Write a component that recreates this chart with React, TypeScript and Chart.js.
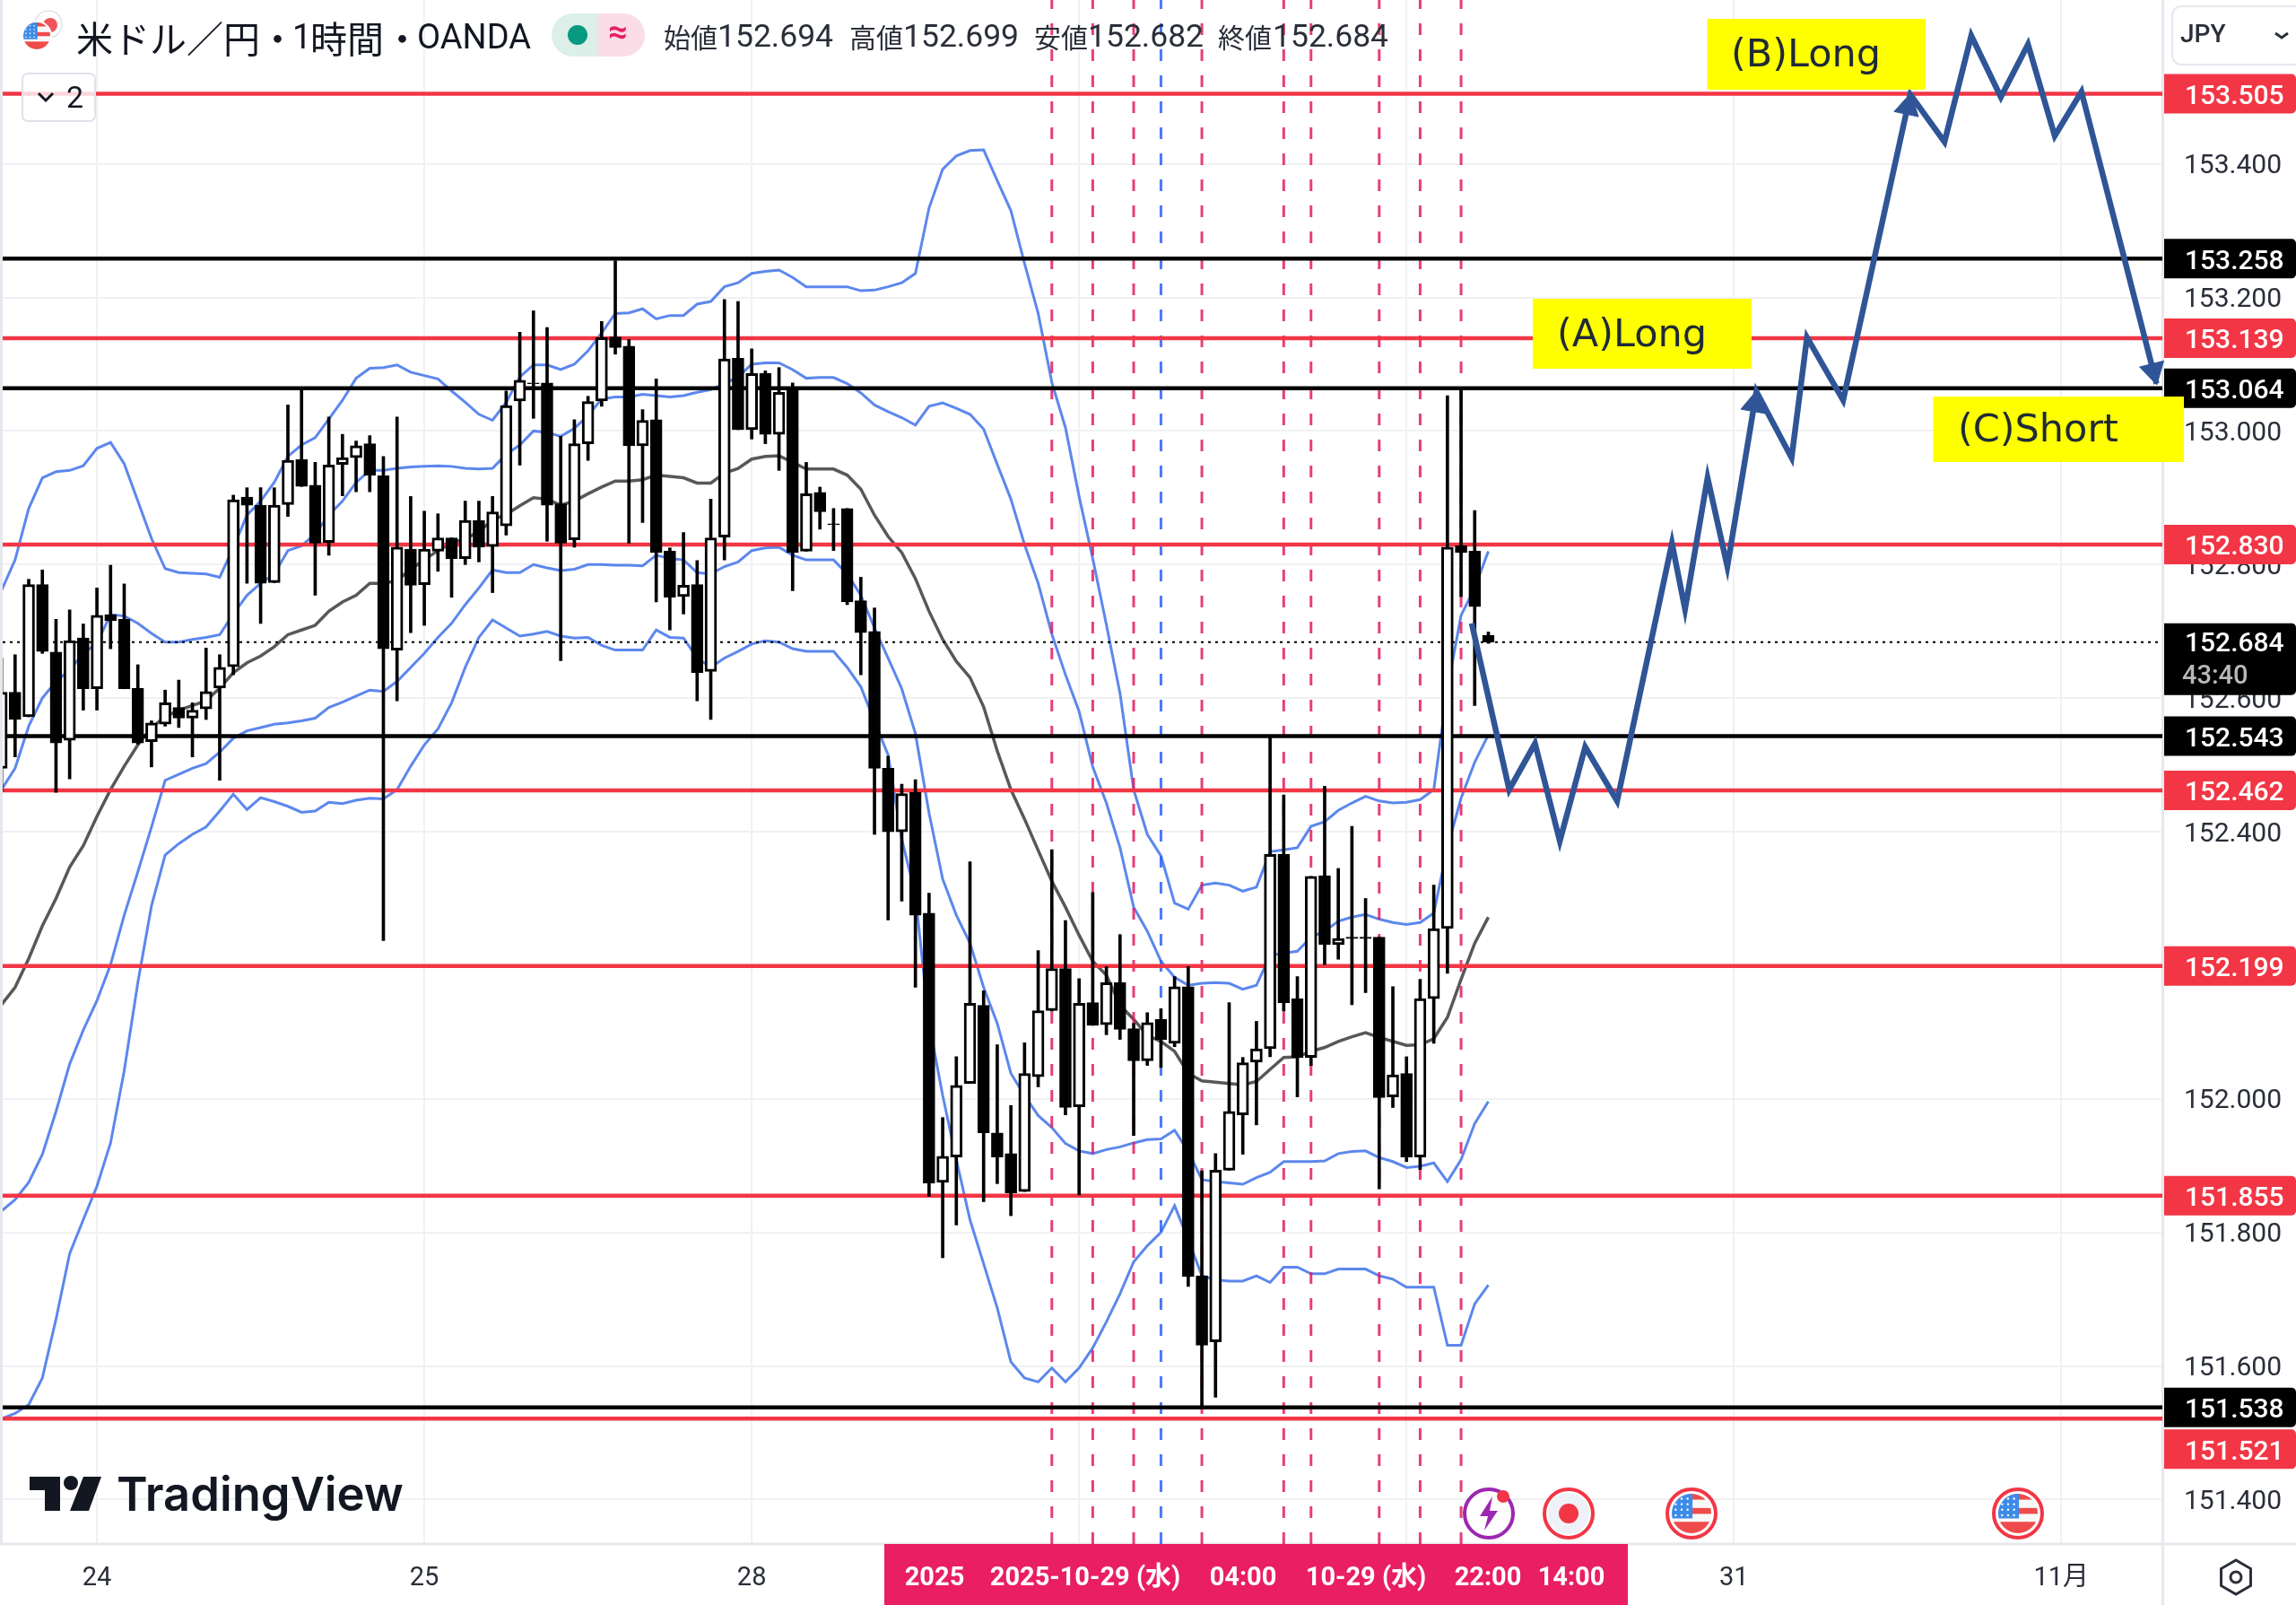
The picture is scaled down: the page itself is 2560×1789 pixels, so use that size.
import React, { useEffect, useRef } from "react";
import { Chart, registerables } from "chart.js";

Chart.register(...registerables);

const opens = [152.495,152.609,152.572,152.770,152.669,152.537,152.690,152.614,152.725,152.718,152.615,152.535,152.561,152.586,152.570,152.584,152.615,152.647,152.901,152.889,152.773,152.890,152.957,152.919,152.833,152.950,152.960,152.981,152.933,152.672,152.823,152.770,152.820,152.840,152.809,152.866,152.827,152.858,153.045,153.072,153.072,152.891,152.837,152.981,153.045,153.141,153.127,152.978,153.017,152.820,152.752,152.770,152.640,152.841,153.109,153.002,153.086,152.995,153.064,152.820,152.908,152.861,152.884,152.746,152.700,152.495,152.400,152.459,152.278,151.875,151.913,152.023,152.140,151.949,151.918,151.861,152.033,152.132,152.195,151.988,152.144,152.111,152.174,152.105,152.057,152.119,152.083,152.168,151.735,151.636,151.893,151.976,152.055,152.075,152.366,152.150,152.062,152.334,152.231,152.242,152.242,152.242,152.003,152.038,151.913,152.150,152.255,152.828,152.820,152.694];
const highs = [152.660,152.665,152.778,152.792,152.718,152.732,152.711,152.765,152.799,152.771,152.650,152.566,152.612,152.627,152.593,152.675,152.665,152.904,152.915,152.915,152.915,153.039,153.064,152.953,153.021,152.995,152.985,152.993,152.962,153.021,152.902,152.880,152.876,152.840,152.895,152.895,152.902,153.060,153.148,153.180,153.155,152.992,153.017,153.052,153.164,153.255,153.137,153.032,153.078,152.825,152.848,152.806,152.898,153.197,153.194,153.123,153.090,153.095,153.072,152.953,152.916,152.884,152.884,152.781,152.735,152.513,152.471,152.478,152.308,151.972,152.063,152.355,152.162,152.081,151.990,152.084,152.222,152.373,152.267,152.180,152.309,152.198,152.246,152.113,152.129,152.135,152.183,152.198,151.892,151.918,152.144,152.062,152.116,152.543,152.455,152.183,152.333,152.468,152.345,152.408,152.300,152.242,152.168,152.063,152.179,152.320,153.053,153.064,152.881,152.699];
const lows = [152.460,152.512,152.572,152.667,152.459,152.479,152.582,152.582,152.674,152.614,152.531,152.497,152.558,152.556,152.512,152.568,152.477,152.635,152.772,152.712,152.773,152.872,152.917,152.754,152.814,152.903,152.909,152.909,152.237,152.596,152.698,152.709,152.790,152.751,152.800,152.804,152.758,152.844,152.949,153.019,152.835,152.656,152.826,152.956,153.037,153.115,152.832,152.863,152.744,152.702,152.726,152.596,152.568,152.807,153.002,152.988,152.981,152.941,152.761,152.820,152.853,152.821,152.740,152.635,152.396,152.268,152.296,152.167,151.854,151.762,151.811,152.023,151.846,151.873,151.825,151.861,152.018,152.131,151.976,151.856,152.110,152.096,152.089,151.945,152.050,152.047,152.078,151.719,151.540,151.553,151.893,151.917,151.961,152.063,152.131,152.003,152.050,152.201,152.209,152.141,152.159,151.865,151.987,151.906,151.894,152.083,152.188,152.752,152.589,152.682];
const closes = [152.609,152.568,152.770,152.670,152.533,152.686,152.614,152.724,152.716,152.614,152.533,152.563,152.593,152.570,152.582,152.610,152.646,152.897,152.889,152.772,152.889,152.956,152.917,152.832,152.949,152.960,152.978,152.934,152.674,152.826,152.769,152.823,152.840,152.809,152.866,152.826,152.879,153.038,153.076,153.071,152.889,152.832,152.981,153.044,153.140,153.125,152.978,153.016,152.818,152.751,152.769,152.638,152.840,153.108,153.002,153.086,152.995,153.058,152.818,152.906,152.879,152.860,152.744,152.698,152.495,152.400,152.457,152.275,151.874,151.914,152.020,152.143,151.949,151.913,151.859,152.038,152.132,152.195,151.987,152.143,152.110,152.174,152.104,152.057,152.114,152.089,152.168,151.734,151.631,151.893,151.981,152.054,152.075,152.366,152.144,152.062,152.333,152.231,152.240,152.240,152.240,152.002,152.036,151.913,152.150,152.255,152.826,152.818,152.737,152.684];

const bbUpper2 = [152.761,152.807,152.884,152.930,152.939,152.941,152.948,152.974,152.983,152.951,152.895,152.839,152.794,152.788,152.787,152.786,152.781,152.825,152.874,152.895,152.923,152.962,152.979,152.990,153.018,153.046,153.079,153.094,153.095,153.099,153.088,153.083,153.078,153.060,153.043,153.025,153.016,153.043,153.081,153.099,153.099,153.092,153.100,153.120,153.147,153.176,153.177,153.183,153.168,153.173,153.173,153.190,153.194,153.216,153.222,153.236,153.239,153.241,153.230,153.216,153.216,153.216,153.216,153.210,153.211,153.216,153.222,153.236,153.334,153.392,153.412,153.420,153.421,153.375,153.330,153.251,153.176,153.073,153.005,152.902,152.809,152.710,152.607,152.463,152.396,152.364,152.293,152.284,152.320,152.323,152.320,152.311,152.317,152.370,152.373,152.376,152.408,152.415,152.432,152.443,152.453,152.446,152.443,152.444,152.448,152.463,152.614,152.724,152.765,152.820];
const bbUpper1 = [152.463,152.495,152.558,152.600,152.625,152.642,152.667,152.682,152.725,152.723,152.712,152.697,152.684,152.684,152.688,152.691,152.695,152.726,152.754,152.772,152.786,152.821,152.828,152.846,152.874,152.895,152.923,152.941,152.941,152.944,152.946,152.947,152.948,152.947,152.944,152.943,152.944,152.965,152.979,153.000,152.998,152.992,153.004,153.023,153.048,153.051,153.051,153.055,153.053,153.051,153.053,153.058,153.062,153.071,153.081,153.100,153.102,153.102,153.092,153.079,153.080,153.080,153.071,153.057,153.039,153.029,153.020,153.009,153.037,153.042,153.034,153.025,153.003,152.950,152.898,152.830,152.772,152.696,152.635,152.580,152.497,152.443,152.376,152.287,152.251,152.206,152.182,152.170,152.173,152.174,152.173,152.164,152.170,152.215,152.218,152.221,152.242,152.251,152.266,152.272,152.276,152.269,152.264,152.261,152.264,152.278,152.376,152.450,152.504,152.545];
const bbMid = [152.141,152.167,152.210,152.259,152.300,152.347,152.379,152.423,152.463,152.498,152.530,152.556,152.572,152.582,152.589,152.596,152.615,152.638,152.653,152.663,152.677,152.695,152.702,152.709,152.730,152.744,152.754,152.772,152.772,152.776,152.793,152.807,152.821,152.832,152.839,152.849,152.867,152.875,152.888,152.900,152.898,152.889,152.895,152.906,152.916,152.925,152.925,152.927,152.934,152.932,152.930,152.922,152.922,152.937,152.944,152.958,152.962,152.963,152.953,152.943,152.943,152.943,152.934,152.913,152.874,152.842,152.818,152.779,152.730,152.688,152.655,152.631,152.587,152.521,152.463,152.419,152.372,152.326,152.287,152.245,152.206,152.185,152.140,152.119,152.095,152.086,152.071,152.038,152.027,152.025,152.023,152.021,152.026,152.044,152.062,152.063,152.071,152.077,152.086,152.093,152.099,152.092,152.086,152.080,152.081,152.090,152.122,152.179,152.233,152.272];
const bbLower1 = [151.832,151.849,151.875,151.917,151.981,152.052,152.103,152.147,152.201,152.275,152.340,152.407,152.477,152.486,152.495,152.502,152.519,152.540,152.551,152.556,152.561,152.563,152.566,152.570,152.586,152.594,152.603,152.612,152.610,152.625,152.646,152.667,152.691,152.712,152.740,152.765,152.792,152.788,152.788,152.800,152.795,152.791,152.793,152.800,152.800,152.799,152.799,152.798,152.814,152.809,152.807,152.788,152.786,152.797,152.804,152.821,152.825,152.826,152.814,152.807,152.807,152.807,152.786,152.754,152.705,152.660,152.614,152.547,152.428,152.329,152.275,152.233,152.167,152.113,152.038,152.005,151.975,151.957,151.933,151.922,151.918,151.924,151.928,151.934,151.939,151.940,151.953,151.921,151.879,151.876,151.874,151.872,151.882,151.890,151.906,151.906,151.906,151.907,151.918,151.921,151.922,151.912,151.906,151.897,151.899,151.904,151.876,151.909,151.963,151.996];
const bbLower2 = [151.521,151.529,151.542,151.582,151.670,151.768,151.819,151.869,151.934,152.042,152.174,152.289,152.365,152.382,152.396,152.407,152.431,152.456,152.433,152.451,152.445,152.438,152.429,152.431,152.444,152.442,152.447,152.450,152.449,152.463,152.498,152.530,152.554,152.593,152.646,152.691,152.717,152.705,152.693,152.696,152.700,152.693,152.690,152.691,152.679,152.672,152.672,152.672,152.702,152.691,152.690,152.660,152.646,152.660,152.670,152.681,152.686,152.684,152.674,152.670,152.670,152.670,152.646,152.617,152.565,152.515,152.389,152.305,152.113,152.005,151.909,151.819,151.753,151.687,151.606,151.582,151.576,151.597,151.576,151.597,151.627,151.666,151.708,151.756,151.780,151.800,151.840,151.789,151.735,151.729,151.727,151.727,151.735,151.725,151.748,151.748,151.738,151.738,151.745,151.745,151.745,151.735,151.730,151.718,151.718,151.718,151.631,151.631,151.693,151.721];

const redLevels = [153.505, 153.139, 152.83, 152.462, 152.199, 151.855, 151.521];
const blackLevels = [153.258, 153.064, 152.543, 151.538];
const lastPrice = 152.684;
const priceTicks = [151.4, 151.6, 151.8, 152.0, 152.2, 152.4, 152.6, 152.8, 153.0, 153.2, 153.4];

const dayTickBars = [7, 31, 55, 79, 103, 127, 151];
const dayTickLabels = ["24", "25", "28", "29", "30", "31", "11月"];

const redMarkerBars = [77, 80, 83, 88, 94, 96, 101, 104, 107];
const blueMarkerBars = [85];

const pathBars = [107.78,110.53,112.42,114.24,116.1,118.44,122.46,123.42,125.07,126.52,128.65,131.23,132.36,135.01,139.93,142.44,144.4,146.57,148.56,150.52,152.48,157.98];
const pathPrices = [152.712,152.463,152.532,152.386,152.527,152.446,152.832,152.733,152.93,152.797,153.059,152.96,153.14,153.046,153.504,153.433,153.592,153.5,153.579,153.442,153.508,153.071];
const arrowBars = [128.5, 139.75, 157.75];
const arrowPrices = [153.04, 153.485, 153.09];
const arrowRotations = [10, 12, 166];

const X_MIN = 0.092, X_MAX = 158.41, Y_MIN = 151.3334, Y_MAX = 153.6454;

const RED = "#f23645";
const NAVY = "#2f5597";
const BAND = "rgba(74,122,235,0.9)";

function roundRect(ctx: any, x: number, y: number, w: number, h: number, r: number | number[]) {
  ctx.beginPath();
  ctx.roundRect(x, y, w, h, r);
}

function usFlag(ctx: any, cx: number, cy: number, r: number) {
  ctx.save();
  ctx.beginPath();
  ctx.arc(cx, cy, r, 0, Math.PI * 2);
  ctx.clip();
  ctx.fillStyle = "#f8f8f8";
  ctx.fillRect(cx - r, cy - r, 2 * r, 2 * r);
  ctx.fillStyle = "#ef4b4b";
  ctx.fillRect(cx - r, cy - r, 2 * r, r * 0.3);
  ctx.fillRect(cx, cy - r * 0.28, r, r * 0.3);
  ctx.fillRect(cx - r, cy + r * 0.42, 2 * r, r * 0.6);
  ctx.fillStyle = "#3d8be8";
  ctx.fillRect(cx - r, cy - r, r * 1.05, r * 1.25);
  ctx.fillStyle = "#fff";
  for (let a = 0; a < 4; a++) for (let b = 0; b < 3; b++) {
    ctx.beginPath();
    ctx.arc(cx - r * 0.8 + b * r * 0.3, cy - r * 0.75 + a * r * 0.28, r * 0.055, 0, Math.PI * 2);
    ctx.fill();
  }
  ctx.restore();
}

const tagPlugin = {
  id: "priceTags",
  beforeDatasetsDraw(chart: any) {
    const { ctx, scales } = chart;
    const y = scales.y;
    ctx.save();
    // axis frame
    ctx.fillStyle = "#e6e8ee";
    ctx.fillRect(0, 0, 3, 1721);
    ctx.fillRect(0, 1719.5, 2560, 3);
    ctx.fillRect(2410, 0, 3, 1789);
    const tag = (price: number, color: string, offset = 0) => {
      const cy = y.getPixelForValue(price) + offset;
      ctx.fillStyle = color;
      roundRect(ctx, 2413, cy - 22, 147, 44, [0, 5, 5, 0]);
      ctx.fill();
      ctx.fillStyle = "#fff";
      ctx.font = "500 30px Roboto";
      ctx.textBaseline = "middle";
      ctx.textAlign = "left";
      ctx.fillText(price.toFixed(3), 2436, cy + 4);
    };
    redLevels.forEach((p) => tag(p, RED, p === 151.521 ? 34 : 0));
    blackLevels.forEach((p) => tag(p, "#000"));
    const cy = y.getPixelForValue(lastPrice);
    ctx.fillStyle = "#000";
    roundRect(ctx, 2413, cy - 21, 147, 80, [0, 5, 5, 0]);
    ctx.fill();
    ctx.fillStyle = "#fff";
    ctx.font = "500 30px Roboto";
    ctx.fillText(lastPrice.toFixed(3), 2436, cy + 3);
    ctx.fillStyle = "#b8b8b8";
    ctx.font = "500 29px Roboto";
    ctx.fillText("43:40", 2433, cy + 39);
    ctx.restore();
  },
  afterDraw(chart: any) {
    const { ctx } = chart;
    ctx.save();
    ctx.textBaseline = "middle";
    ctx.textAlign = "left";

    // yellow annotation boxes
    const boxes: [number, number, number, number, string, number, number][] = [
      [1903.5, 21, 243.5, 79, "(B)Long", 1930, 63],
      [1709, 333, 244, 78, "(A)Long", 1736, 375],
      [2155.5, 442, 279.5, 73, "(C)Short", 2183, 481],
    ];
    boxes.forEach(([x, yy, w, h, t, tx, ty]) => {
      ctx.fillStyle = "#ffff00";
      ctx.fillRect(x, yy, w, h);
      ctx.fillStyle = "#1f2a36";
      ctx.font = "43px 'DejaVu Sans'";
      ctx.fillText(t, tx, ty);
    });

    // header
    ctx.fillStyle = "#fff";
    ctx.beginPath(); ctx.arc(54, 27, 15, 0, Math.PI * 2); ctx.fill();
    ctx.strokeStyle = "#dfe3ec"; ctx.lineWidth = 1.5; ctx.stroke();
    ctx.fillStyle = "#f0545c";
    ctx.beginPath(); ctx.arc(56, 28, 8, 0, Math.PI * 2); ctx.fill();
    ctx.fillStyle = "#fff";
    ctx.beginPath(); ctx.arc(41, 40, 17, 0, Math.PI * 2); ctx.fill();
    usFlag(ctx, 41, 40, 15);

    ctx.fillStyle = "#131722";
    ctx.font = "41px 'Noto Sans CJK JP'";
    ctx.fillText("米ドル／円", 85, 43);
    ctx.fillText("・", 289, 43);
    ctx.font = "38px Roboto";
    ctx.fillText("1", 326, 44);
    ctx.font = "41px 'Noto Sans CJK JP'";
    ctx.fillText("時間", 346, 43);
    ctx.fillText("・", 428, 43);
    ctx.font = "38px Roboto";
    ctx.fillText("OANDA", 465, 44);

    // status pill
    ctx.fillStyle = "#dcefe9";
    roundRect(ctx, 615, 15, 52, 48, [24, 0, 0, 24]); ctx.fill();
    ctx.fillStyle = "#fbdde7";
    roundRect(ctx, 667, 15, 52, 48, [0, 24, 24, 0]); ctx.fill();
    ctx.fillStyle = "#089981";
    ctx.beginPath(); ctx.arc(644, 39, 11, 0, Math.PI * 2); ctx.fill();
    ctx.fillStyle = "#e91e63";
    ctx.font = "bold 38px Roboto";
    ctx.textAlign = "center";
    ctx.fillText("≈", 689, 38);
    ctx.textAlign = "left";

    // OHLC
    const ohlc: [string, number, string, number][] = [
      ["始値", 740, "152.694", 800],
      ["高値", 947, "152.699", 1007],
      ["安値", 1153, "152.682", 1213],
      ["終値", 1358, "152.684", 1419],
    ];
    ohlc.forEach(([k, kx, v, vx]) => {
      ctx.fillStyle = "#2a2e39";
      ctx.font = "30px 'Noto Sans CJK JP'";
      ctx.fillText(k, kx, 42);
      ctx.font = "35.5px Roboto";
      ctx.fillText(v, vx, 43);
    });

    // collapse button
    ctx.fillStyle = "rgba(255,255,255,0.8)";
    roundRect(ctx, 25, 82, 81, 53, 6); ctx.fill();
    ctx.strokeStyle = "#dfe2ea"; ctx.lineWidth = 2; ctx.stroke();
    ctx.strokeStyle = "#131722"; ctx.lineWidth = 3;
    ctx.beginPath(); ctx.moveTo(43, 104); ctx.lineTo(51, 112); ctx.lineTo(59, 104); ctx.stroke();
    ctx.fillStyle = "#131722";
    ctx.font = "34px Roboto";
    ctx.fillText("2", 74, 111);

    // currency selector
    ctx.fillStyle = "#fff";
    roundRect(ctx, 2422, 7, 145, 65, 10); ctx.fill();
    ctx.strokeStyle = "#e4e7ee"; ctx.lineWidth = 2; ctx.stroke();
    ctx.fillStyle = "#2a2e39";
    ctx.font = "500 28px Roboto";
    ctx.fillText("JPY", 2431, 40);
    ctx.strokeStyle = "#2a2e39"; ctx.lineWidth = 3;
    ctx.beginPath(); ctx.moveTo(2537, 37); ctx.lineTo(2544, 42); ctx.lineTo(2551, 37); ctx.stroke();

    // logo
    ctx.fillStyle = "#131722";
    ctx.beginPath();
    ctx.moveTo(33, 1646); ctx.lineTo(67, 1646); ctx.lineTo(67, 1684); ctx.lineTo(50, 1684); ctx.lineTo(50, 1661); ctx.lineTo(33, 1661);
    ctx.closePath(); ctx.fill();
    ctx.beginPath(); ctx.arc(79, 1653, 8, 0, Math.PI * 2); ctx.fill();
    ctx.beginPath();
    ctx.moveTo(93, 1646); ctx.lineTo(113, 1646); ctx.lineTo(99, 1684); ctx.lineTo(78, 1684);
    ctx.closePath(); ctx.fill();
    ctx.font = "600 52.5px Inter";
    ctx.fillText("TradingView", 130, 1668);

    // event icons
    const ring = (cx: number, color: string, w = 4) => {
      ctx.fillStyle = "#fff";
      ctx.beginPath(); ctx.arc(cx, 1687, 27, 0, Math.PI * 2); ctx.fill();
      ctx.strokeStyle = color; ctx.lineWidth = w;
      ctx.beginPath(); ctx.arc(cx, 1687, 27, 0, Math.PI * 2); ctx.stroke();
    };
    ring(1660, "#9c27b0");
    ctx.fillStyle = "#9c27b0";
    ctx.beginPath();
    ctx.moveTo(1664, 1668); ctx.lineTo(1650, 1690); ctx.lineTo(1659, 1690); ctx.lineTo(1655, 1706);
    ctx.lineTo(1670, 1684); ctx.lineTo(1661, 1684); ctx.closePath(); ctx.fill();
    ctx.fillStyle = RED;
    ctx.beginPath(); ctx.arc(1676, 1668, 7, 0, Math.PI * 2); ctx.fill();

    ring(1749, RED);
    ctx.fillStyle = "#eef1f7";
    ctx.beginPath(); ctx.arc(1749, 1687, 23, 0, Math.PI * 2); ctx.fill();
    ctx.fillStyle = RED;
    ctx.beginPath(); ctx.arc(1749, 1687, 11, 0, Math.PI * 2); ctx.fill();

    [1886, 2250].forEach((cx) => {
      ring(cx, RED);
      usFlag(ctx, cx, 1687, 22);
    });

    // time-axis marker band
    ctx.fillStyle = "#e91e63";
    ctx.fillRect(986, 1721, 829, 68);
    ctx.fillStyle = "#fff";
    ctx.textAlign = "center";
    const bandTexts: [string, number][] = [
      ["2025", 1042], ["2025-10-29 (水)", 1210], ["04:00", 1386], ["10-29 (水)", 1523], ["22:00", 1659], ["14:00", 1752],
    ];
    ctx.font = "bold 29px Roboto, 'Noto Sans CJK JP'";
    bandTexts.forEach(([t, x]) => ctx.fillText(t, x, 1760));

    // settings icon
    ctx.strokeStyle = "#2a2e39"; ctx.lineWidth = 3;
    ctx.beginPath();
    const hx = 2493, hy = 1758, hr = 19;
    for (let k = 0; k < 6; k++) {
      const a = Math.PI / 6 + (k * Math.PI) / 3;
      const px = hx + hr * Math.cos(a), py = hy + hr * Math.sin(a);
      k ? ctx.lineTo(px, py) : ctx.moveTo(px, py);
    }
    ctx.closePath(); ctx.stroke();
    ctx.beginPath(); ctx.arc(hx, hy, 6, 0, Math.PI * 2); ctx.stroke();
    ctx.restore();
  },
};

export default function App() {
  const ref = useRef<HTMLCanvasElement | null>(null);
  useEffect(() => {
    document.body.style.margin = "0";
    const hLine = (p: number, color: string, width: number, order: number, dash: number[] = []) => ({
      type: "line",
      data: [{ x: X_MIN, y: p }, { x: X_MAX, y: p }],
      borderColor: color,
      borderWidth: width,
      borderDash: dash,
      pointRadius: 0,
      order,
    });
    const vLine = (i: number, color: string) => ({
      type: "line",
      data: [{ x: i, y: Y_MIN }, { x: i, y: Y_MAX }],
      borderColor: color,
      borderWidth: 3,
      borderDash: [13, 16],
      pointRadius: 0,
      order: 50,
    });
    const band = (vals: number[], color: string, width: number) => ({
      type: "line",
      data: vals.map((y, x) => ({ x, y })),
      borderColor: color,
      borderWidth: width,
      pointRadius: 0,
      tension: 0,
      order: 80,
    });
    const noPadding = (s: any) => {
      s.paddingLeft = 0; s.paddingRight = 0; s.paddingTop = 0; s.paddingBottom = 0;
    };
    const chart = new Chart(ref.current as HTMLCanvasElement, {
      type: "bar",
      data: {
        datasets: [
          {
            type: "line",
            data: pathBars.map((x, i) => ({ x, y: pathPrices[i] })),
            borderColor: NAVY,
            borderWidth: 6.5,
            pointRadius: 0,
            tension: 0,
            borderJoinStyle: "miter",
            clip: false,
            order: 2,
          },
          {
            type: "line",
            data: arrowBars.map((x, i) => ({ x, y: arrowPrices[i] })),
            showLine: false,
            pointStyle: "triangle",
            pointRadius: 16,
            pointRotation: arrowRotations,
            pointBackgroundColor: NAVY,
            pointBorderColor: NAVY,
            clip: false,
            order: 1,
          },
          {
            data: opens.map((o, i) => ({ x: i, y: [Math.min(o, closes[i]), Math.max(o, closes[i])] })),
            backgroundColor: opens.map((o, i) => (closes[i] >= o ? "#ffffff" : "#000000")),
            borderColor: "#000000",
            borderWidth: 3,
            borderSkipped: false,
            barThickness: 13,
            grouped: false,
            order: 10,
          },
          {
            data: highs.map((h, i) => ({ x: i, y: [lows[i], h] })),
            backgroundColor: "#000000",
            borderWidth: 0,
            barThickness: 3,
            grouped: false,
            order: 11,
          },
          ...redMarkerBars.map((i) => vLine(i, "rgba(228,28,95,0.85)")),
          ...blueMarkerBars.map((i) => vLine(i, "rgba(41,98,255,0.85)")),
          ...redLevels.map((p) => hLine(p, RED, 4.5, 40)),
          ...blackLevels.map((p) => hLine(p, "#000000", 4.5, 40)),
          hLine(lastPrice, "#000000", 2, 45, [3, 5]),
          band(bbUpper2, BAND, 3),
          band(bbUpper1, BAND, 3),
          band(bbMid, "rgba(70,70,70,0.9)", 3.5),
          band(bbLower1, BAND, 3),
          band(bbLower2, BAND, 3),
        ] as any,
      },
      options: {
        responsive: false,
        animation: false,
        devicePixelRatio: 1,
        layout: { autoPadding: false, padding: { left: 3, top: 0, right: 0, bottom: 0 } },
        plugins: { legend: { display: false }, tooltip: { enabled: false } },
        events: [],
        scales: {
          x: {
            type: "linear",
            min: X_MIN,
            max: X_MAX,
            offset: false,
            afterFit: (s: any) => { s.height = 68; noPadding(s); },
            afterBuildTicks: (s: any) => { s.ticks = dayTickBars.map((value) => ({ value })); },
            grid: { color: "#f0f1f3", lineWidth: 2, drawTicks: false, offset: false },
            border: { display: false },
            ticks: {
              autoSkip: false,
              maxRotation: 0,
              padding: 21,
              color: "#2a2e39",
              font: { family: "Roboto, 'Noto Sans CJK JP'", size: 29 },
              callback: (v: any) => dayTickLabels[dayTickBars.indexOf(Number(v))] ?? "",
            },
          },
          y: {
            type: "linear",
            position: "right",
            min: Y_MIN,
            max: Y_MAX,
            afterFit: (s: any) => { s.width = 149; noPadding(s); },
            afterBuildTicks: (s: any) => { s.ticks = priceTicks.map((value) => ({ value })); },
            grid: { color: "#f0f1f3", lineWidth: 2, drawTicks: false },
            border: { display: false },
            ticks: {
              padding: 24,
              labelOffset: 3,
              color: "#2a2e39",
              font: { family: "Roboto", size: 30 },
              callback: (v: any) => Number(v).toFixed(3),
            },
          },
        },
      } as any,
      plugins: [tagPlugin],
    } as any);
    return () => chart.destroy();
  }, []);
  return <canvas ref={ref} width={2560} height={1789} style={{ display: "block", width: 2560, height: 1789 }} />;
}
